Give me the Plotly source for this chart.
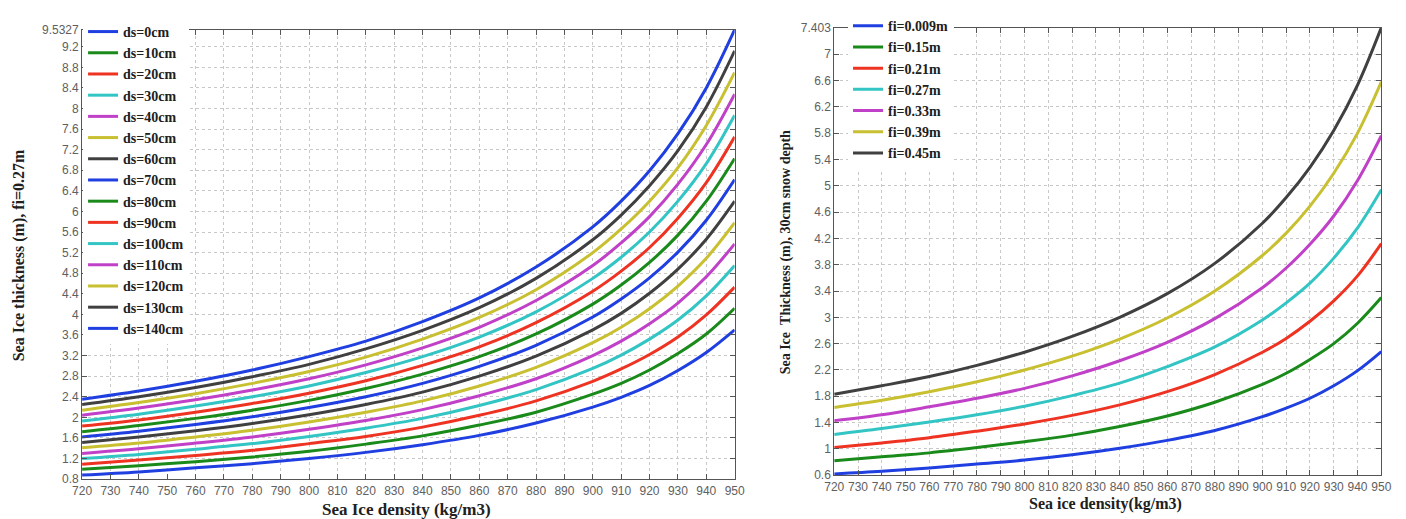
import plotly.graph_objects as go

# ---------------- data ----------------
density = [720, 740, 760, 780, 800, 820, 840, 860, 880, 900, 910, 920, 930, 940, 950]

left_names = ["ds=0cm", "ds=10cm", "ds=20cm", "ds=30cm", "ds=40cm", "ds=50cm", "ds=60cm",
              "ds=70cm", "ds=80cm", "ds=90cm", "ds=100cm", "ds=110cm", "ds=120cm",
              "ds=130cm", "ds=140cm"]
ds0 = [0.88, 0.94, 1.02, 1.10, 1.20, 1.32, 1.47, 1.65, 1.89, 2.20, 2.39, 2.62, 2.91, 3.26, 3.70]
ds10 = [0.99, 1.06, 1.14, 1.23, 1.34, 1.48, 1.64, 1.85, 2.10, 2.45, 2.66, 2.92, 3.24, 3.62, 4.12]
ds20 = [1.09, 1.17, 1.26, 1.36, 1.49, 1.63, 1.81, 2.04, 2.32, 2.70, 2.94, 3.22, 3.56, 3.99, 4.53]
ds30 = [1.20, 1.28, 1.38, 1.49, 1.63, 1.79, 1.98, 2.23, 2.54, 2.95, 3.21, 3.52, 3.89, 4.36, 4.95]
ds40 = [1.30, 1.39, 1.50, 1.62, 1.77, 1.94, 2.15, 2.42, 2.75, 3.20, 3.48, 3.82, 4.22, 4.73, 5.37]
ds50 = [1.41, 1.50, 1.62, 1.75, 1.91, 2.10, 2.32, 2.61, 2.97, 3.45, 3.75, 4.11, 4.55, 5.09, 5.78]
ds60 = [1.51, 1.62, 1.74, 1.88, 2.05, 2.25, 2.49, 2.80, 3.19, 3.70, 4.02, 4.41, 4.88, 5.46, 6.20]
ds70 = [1.62, 1.73, 1.86, 2.01, 2.19, 2.40, 2.66, 2.99, 3.40, 3.95, 4.30, 4.71, 5.21, 5.83, 6.62]
ds80 = [1.72, 1.84, 1.98, 2.14, 2.33, 2.56, 2.84, 3.18, 3.62, 4.20, 4.57, 5.01, 5.54, 6.20, 7.03]
ds90 = [1.83, 1.95, 2.10, 2.27, 2.47, 2.71, 3.01, 3.37, 3.84, 4.45, 4.84, 5.30, 5.87, 6.56, 7.45]
ds100 = [1.93, 2.06, 2.22, 2.40, 2.61, 2.87, 3.18, 3.56, 4.05, 4.70, 5.11, 5.60, 6.20, 6.93, 7.87]
ds110 = [2.04, 2.18, 2.34, 2.53, 2.75, 3.02, 3.35, 3.75, 4.27, 4.95, 5.39, 5.90, 6.53, 7.30, 8.28]
ds120 = [2.14, 2.29, 2.46, 2.66, 2.89, 3.17, 3.52, 3.94, 4.48, 5.20, 5.66, 6.20, 6.85, 7.67, 8.70]
ds130 = [2.25, 2.40, 2.58, 2.79, 3.03, 3.33, 3.69, 4.13, 4.70, 5.45, 5.93, 6.50, 7.18, 8.03, 9.12]
ds140 = [2.35, 2.51, 2.70, 2.92, 3.18, 3.48, 3.86, 4.32, 4.92, 5.70, 6.20, 6.79, 7.51, 8.40, 9.53]
left_series = [ds0, ds10, ds20, ds30, ds40, ds50, ds60, ds70, ds80, ds90, ds100,
               ds110, ds120, ds130, ds140]

right_names = ["fi=0.009m", "fi=0.15m", "fi=0.21m", "fi=0.27m", "fi=0.33m", "fi=0.39m", "fi=0.45m"]
fi009 = [0.62, 0.66, 0.71, 0.77, 0.83, 0.91, 1.01, 1.13, 1.28, 1.49, 1.62, 1.77, 1.96, 2.19, 2.48]
fi15 = [0.82, 0.88, 0.94, 1.02, 1.11, 1.21, 1.34, 1.50, 1.71, 1.98, 2.15, 2.36, 2.60, 2.91, 3.30]
fi21 = [1.02, 1.09, 1.17, 1.27, 1.38, 1.51, 1.67, 1.87, 2.13, 2.47, 2.68, 2.94, 3.25, 3.63, 4.12]
fi27 = [1.22, 1.31, 1.41, 1.52, 1.65, 1.81, 2.00, 2.25, 2.55, 2.96, 3.22, 3.52, 3.90, 4.36, 4.94]
fi33 = [1.43, 1.52, 1.64, 1.77, 1.92, 2.11, 2.34, 2.62, 2.98, 3.45, 3.75, 4.11, 4.54, 5.08, 5.76]
fi39 = [1.63, 1.74, 1.87, 2.02, 2.20, 2.41, 2.67, 2.99, 3.40, 3.94, 4.28, 4.69, 5.19, 5.80, 6.58]
fi45 = [1.83, 1.96, 2.10, 2.27, 2.47, 2.71, 3.00, 3.36, 3.82, 4.43, 4.82, 5.28, 5.84, 6.53, 7.403]
right_series = [fi009, fi15, fi21, fi27, fi33, fi39, fi45]

x_ticks = list(range(720, 951, 10))
left_yticks = [0.8, 1.2, 1.6, 2, 2.4, 2.8, 3.2, 3.6, 4, 4.4, 4.8, 5.2, 5.6, 6, 6.4, 6.8,
               7.2, 7.6, 8, 8.4, 8.8, 9.2, 9.5327]
left_yticktext = ["0.8", "1.2", "1.6", "2", "2.4", "2.8", "3.2", "3.6", "4", "4.4", "4.8",
                  "5.2", "5.6", "6", "6.4", "6.8", "7.2", "7.6", "8", "8.4", "8.8", "9.2", "9.5327"]
right_yticks = [0.6, 1, 1.4, 1.8, 2.2, 2.6, 3, 3.4, 3.8, 4.2, 4.6, 5, 5.4, 5.8, 6.2, 6.6, 7, 7.403]
right_yticktext = ["0.6", "1", "1.4", "1.8", "2.2", "2.6", "3", "3.4", "3.8", "4.2", "4.6",
                   "5", "5.4", "5.8", "6.2", "6.6", "7", "7.403"]

palette = ["#1f3fe0", "#1a8a1a", "#ee3322", "#33c4c4", "#c040c8", "#c8c030", "#404040"]

# ---------------- figure ----------------
W, H = 1406, 519
fig = go.Figure()

for i, (name, ys) in enumerate(zip(left_names, left_series)):
    fig.add_trace(go.Scatter(
        x=density, y=ys, name=name, mode="lines", line_shape="spline",
        line=dict(color=palette[i % 7], width=3),
        xaxis="x", yaxis="y", legend="legend"))

for i, (name, ys) in enumerate(zip(right_names, right_series)):
    fig.add_trace(go.Scatter(
        x=density, y=ys, name=name, mode="lines", line_shape="spline",
        line=dict(color=palette[i % 7], width=3),
        xaxis="x2", yaxis="y2", legend="legend2"))

tick_font = dict(family="Liberation Sans, Arial, sans-serif", size=12, color="#606060")
axis_common = dict(
    showline=True, linecolor="#555555", linewidth=1, mirror="ticks",
    ticks="inside", ticklen=5, tickcolor="#555555",
    showgrid=True, gridcolor="#c8c8c8", griddash="dot", gridwidth=1,
    zeroline=False, tickfont=tick_font,
)

legend_font = dict(family="Liberation Serif, Times New Roman, serif", size=14,
                   color="#202020", weight="bold")

fig.update_layout(
    width=W, height=H,
    margin=dict(l=0, r=0, t=0, b=0),
    paper_bgcolor="white", plot_bgcolor="white",
    xaxis=dict(domain=[65 / W, 727 / W], range=[720, 950], tickvals=x_ticks,
               anchor="y", **axis_common),
    yaxis=dict(domain=[(H - 477) / H, (H - 15) / H], range=[0.8, 9.5327],
               tickvals=left_yticks, ticktext=left_yticktext, anchor="x", **axis_common),
    xaxis2=dict(domain=[828 / W, 1383 / W], range=[720, 950], tickvals=x_ticks,
                anchor="y2", **axis_common),
    yaxis2=dict(domain=[(H - 473) / H, (H - 13) / H], range=[0.6, 7.403],
                tickvals=right_yticks, ticktext=right_yticktext, anchor="x2", **axis_common),
    legend=dict(x=66 / W, y=(H - 1) / H, xanchor="left", yanchor="top",
                bgcolor="white", borderwidth=0, tracegroupgap=0, font=legend_font),
    legend2=dict(x=842 / W, y=(H + 5) / H, xanchor="left", yanchor="top",
                 bgcolor="white", borderwidth=0, tracegroupgap=0, font=legend_font),
    showlegend=True,
)

def title_font(size):
    return dict(family="Liberation Serif, Times New Roman, serif", size=size,
                color="#202020", weight="bold")

fig.add_annotation(text="Sea Ice thickness (m), fi=0.27m", xref="paper", yref="paper",
                   x=1 / W, y=(H - 247) / H, textangle=-90, showarrow=False,
                   font=title_font(16), xanchor="center", yanchor="middle")
fig.add_annotation(text="Sea Ice density (kg/m3)", xref="paper", yref="paper",
                   x=394 / W, y=(H - 508) / H, showarrow=False,
                   font=title_font(17), xanchor="center", yanchor="middle")
fig.add_annotation(text="Sea Ice&nbsp;&nbsp;Thickness (m), 30cm snow depth", xref="paper",
                   yref="paper", x=779 / W, y=(H - 244) / H, textangle=-90, showarrow=False,
                   font=title_font(14), xanchor="center", yanchor="middle")
fig.add_annotation(text="Sea ice density(kg/m3)", xref="paper", yref="paper",
                   x=1103 / W, y=(H - 503) / H, showarrow=False,
                   font=title_font(16), xanchor="center", yanchor="middle")

fig.write_html("out.html")
